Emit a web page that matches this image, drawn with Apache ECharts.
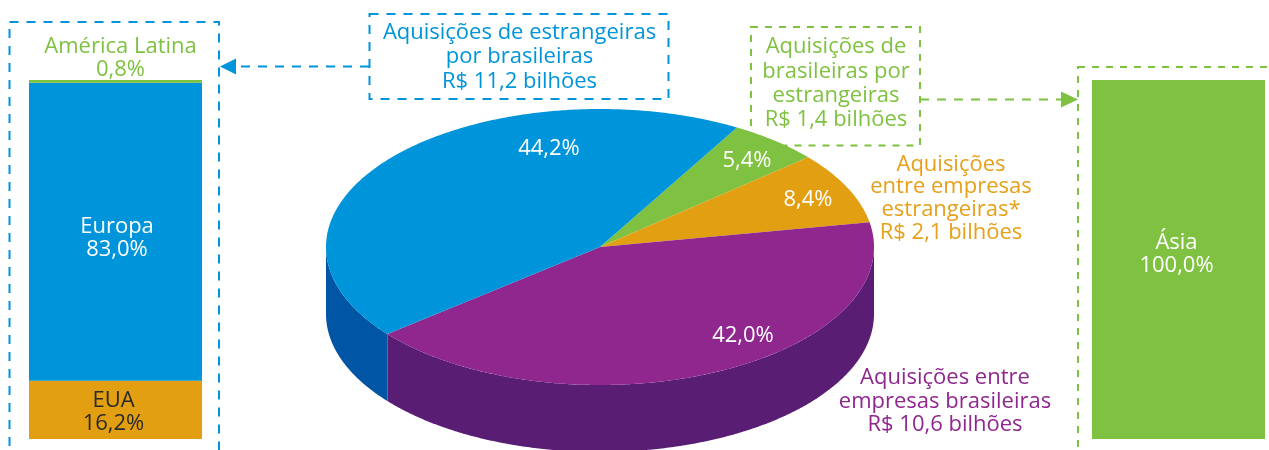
<!DOCTYPE html>
<html lang="pt">
<head>
<meta charset="utf-8">
<style>html,body{margin:0;padding:0;background:#fff}#c{width:1269px;height:450px}</style>
<script src="https://cdn.jsdelivr.net/npm/echarts@6/dist/echarts.min.js"></script>
</head>
<body>
<div id="c"></div>
<script>
// ---- data ----
const pieCategories = ['Aquisições de brasileiras por estrangeiras', 'Aquisições entre empresas estrangeiras', 'Aquisições entre empresas brasileiras', 'Aquisições de estrangeiras por brasileiras'];
const pieValues = [5.4, 8.4, 42.0, 44.2];
const leftCategories = ['EUA', 'Europa', 'América Latina'];
const leftValues = [16.2, 83.0, 0.8];
const rightCategories = ['Ásia'];
const rightValues = [100.0];

// ---- styling & layout ----
const FONT = '"Open Sans", "Noto Sans", sans-serif';
const FS = 22;
const BLUE = '#0095DA', GREEN = '#7FC241', GOLD = '#E29F12', PURPLE = '#8F278F';
const pieTop = [GREEN, GOLD, PURPLE, BLUE];
const pieSide = ['#5F9430', '#AD7A0C', '#5A1D74', '#0055A5'];
const pieLabelAt = [[747, 161], [808, 200], [743, 336], [549, 149]];
const leftColors = [GOLD, BLUE, GREEN];
const CX = 600, CY = 247, RX = 274, RY = 138, DEPTH = 67, START = 30;
const pct = v => v.toFixed(1).replace('.', ',') + '%';
const total = pieValues.reduce((a, b) => a + b, 0);
const pt = (deg, dy) => {
  const r = deg * Math.PI / 180;
  return [CX + RX * Math.sin(r), CY - RY * Math.cos(r) + (dy || 0)];
};
const arc = (a, b, dy) => {
  const out = [], n = Math.max(2, Math.ceil(Math.abs(b - a) * 2));
  for (let i = 0; i <= n; i++) out.push(pt(a + (b - a) * i / n, dy));
  return out;
};
function renderSlice(params, api) {
  const i = params.dataIndex;
  const before = pieValues.slice(0, i).reduce((a, b) => a + b, 0);
  const a0 = START + before / total * 360;
  const a1 = a0 + api.value(0) / total * 360;
  const children = [];
  const w0 = Math.max(a0, 90), w1 = Math.min(a1, 270);
  if (w1 > w0) {
    children.push({
      type: 'polygon',
      shape: { points: arc(w0, w1, 0).concat(arc(w1, w0, DEPTH)) },
      style: { fill: pieSide[i], stroke: null }
    });
  }
  children.push({
    type: 'polygon',
    shape: { points: [[CX, CY]].concat(arc(a0, a1, 0)) },
    style: { fill: pieTop[i], stroke: null }
  });
  children.push({
    type: 'text', z2: 5,
    style: {
      text: pct(api.value(0)), x: pieLabelAt[i][0], y: pieLabelAt[i][1],
      fill: '#fff', font: FS + 'px ' + FONT, align: 'center', verticalAlign: 'middle'
    }
  });
  return { type: 'group', children };
}

const textEl = (x, y, lines, color, lh) => ({
  type: 'text', z: 10, x, y,
  style: { text: lines.join('\n'), fill: color, font: FS + 'px ' + FONT, align: 'center', verticalAlign: 'top', lineHeight: lh }
});
const box = (x, y, w, h, color, dash) => ({
  type: 'rect', z: 0, shape: { x, y, width: w, height: h },
  style: { fill: null, stroke: color, lineWidth: 2, lineDash: dash }
});
const dashLine = (x1, x2, y, color, dash) => ({
  type: 'line', z: 0, shape: { x1, y1: y, x2, y2: y },
  style: { stroke: color, lineWidth: 2, lineDash: dash }
});
const tri = (pts, color) => ({ type: 'polygon', z: 1, shape: { points: pts }, style: { fill: color } });

const barLabel = (color, dx, dy, pos) => ({
  show: true, position: pos || 'inside', offset: [dx, dy], color,
  fontFamily: FONT, fontSize: FS, lineHeight: 23,
  formatter: p => p.seriesName + '\n' + pct(p.value)
});

const option = {
  animation: false,
  backgroundColor: '#fff',
  grid: [
    { left: 29, top: 80, width: 173, height: 359 },
    { left: 1092, top: 80, width: 173, height: 359 }
  ],
  xAxis: [
    { type: 'category', gridIndex: 0, data: ['Esquerda'], show: false },
    { type: 'category', gridIndex: 1, data: ['Direita'], show: false }
  ],
  yAxis: [
    { type: 'value', gridIndex: 0, min: 0, max: 100, show: false },
    { type: 'value', gridIndex: 1, min: 0, max: 100, show: false }
  ],
  series: [
    ...leftCategories.map((name, i) => ({
      type: 'bar', name, stack: 'left', xAxisIndex: 0, yAxisIndex: 0, barWidth: '100%',
      data: [leftValues[i]],
      itemStyle: { color: leftColors[i] },
      label: i === 0 ? barLabel('#2B2A29', -2, 2) : i === 1 ? barLabel('#fff', 1.5, 6) : barLabel(GREEN, 5, 6, 'top')
    })),
    {
      type: 'bar', name: rightCategories[0], xAxisIndex: 1, yAxisIndex: 1, barWidth: '100%',
      data: [rightValues[0]], itemStyle: { color: GREEN },
      label: barLabel('#fff', -2, -5)
    },
    {
      type: 'custom', coordinateSystem: 'none', name: 'Aquisições', z: 3, clip: false,
      data: pieValues.map((v, i) => ({ name: pieCategories[i], value: [v] })),
      renderItem: renderSlice
    }
  ],
  graphic: { elements: [
    box(9.5, 22, 209.5, 470, BLUE, [9, 8]),
    box(369.5, 14, 299, 85, BLUE, [9, 8]),
    dashLine(369, 232, 66.5, BLUE, [9, 8]),
    tri([[220, 66.5], [236, 58.5], [236, 74.5]], BLUE),
    box(751, 27, 169, 118.5, GREEN, [7, 7]),
    box(1078, 67, 260, 420, GREEN, [7, 7]),
    dashLine(920, 1064, 99.5, GREEN, [9, 8]),
    tri([[1078, 99.5], [1061, 91.5], [1061, 107.5]], GREEN),
    textEl(519.5, 20, ['Aquisições de estrangeiras', 'por brasileiras', 'R$ 11,2 bilhões'], BLUE, 24.5),
    textEl(836, 35, ['Aquisições de', 'brasileiras por', 'estrangeiras', 'R$ 1,4 bilhões'], GREEN, 24.3),
    textEl(951, 153, ['Aquisições', 'entre empresas', 'estrangeiras*', 'R$ 2,1 bilhões'], '#E6A01A', 22.7),
    textEl(945, 366, ['Aquisições entre', 'empresas brasileiras', 'R$ 10,6 bilhões'], PURPLE, 23.5)
  ] }
};
const chart = echarts.init(document.getElementById('c'));
chart.setOption(option);
</script>
</body>
</html>
